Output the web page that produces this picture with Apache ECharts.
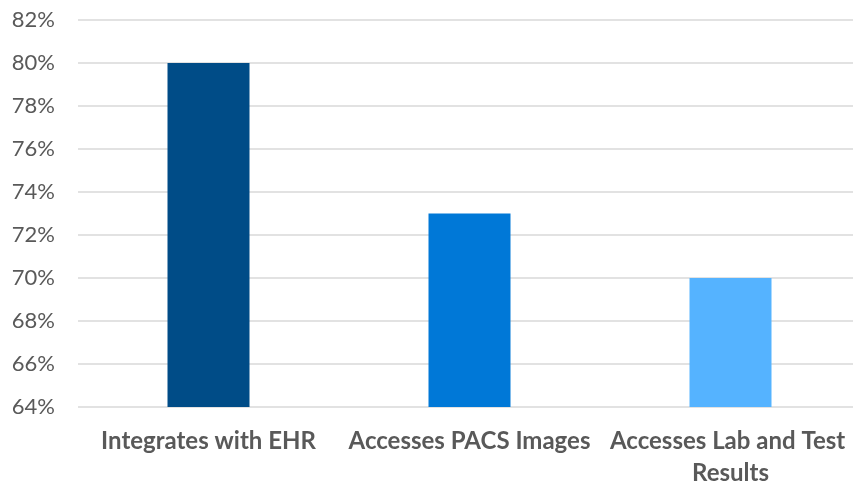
<!DOCTYPE html>
<html>
<head>
<meta charset="utf-8">
<script src="https://cdn.jsdelivr.net/npm/echarts@6/dist/echarts.min.js"></script>
<style>
html,body{margin:0;padding:0;background:#fff;overflow:hidden;}
#chart{width:861px;height:486px;}
</style>
</head>
<body>
<div id="chart"></div>
<script>
const categories = ['Integrates with EHR', 'Accesses PACS Images', 'Accesses Lab and Test Results'];
const values = [80, 73, 70];
const barColors = ['#004C87', '#0078D7', '#55B3FF'];
const yMin = 64, yMax = 82, yStep = 2;

const chart = echarts.init(document.getElementById('chart'));
chart.setOption({
  animation: false,
  grid: { left: 78, right: 0, top: 20, bottom: 79, containLabel: false, outerBoundsMode: 'none' },
  xAxis: {
    type: 'category',
    data: categories,
    axisLine: { show: false },
    axisTick: { show: false },
    axisLabel: {
      interval: 0,
      color: '#595959',
      fontFamily: 'Lato',
      fontWeight: 'bold',
      fontSize: 24,
      lineHeight: 32,
      margin: 18,
      width: 258,
      overflow: 'break'
    }
  },
  yAxis: {
    type: 'value',
    min: yMin, max: yMax, interval: yStep,
    axisLine: { show: false },
    axisTick: { show: false },
    splitLine: { lineStyle: { color: '#D9D9D9', width: 1.5 } },
    axisLabel: {
      formatter: '{value}%',
      color: '#595959',
      fontFamily: 'Lato',
      fontSize: 22,
      margin: 23
    }
  },
  series: [{
    type: 'bar',
    barWidth: 82,
    data: values.map((v, i) => ({ value: v, itemStyle: { color: barColors[i] } }))
  }]
});
</script>
</body>
</html>
